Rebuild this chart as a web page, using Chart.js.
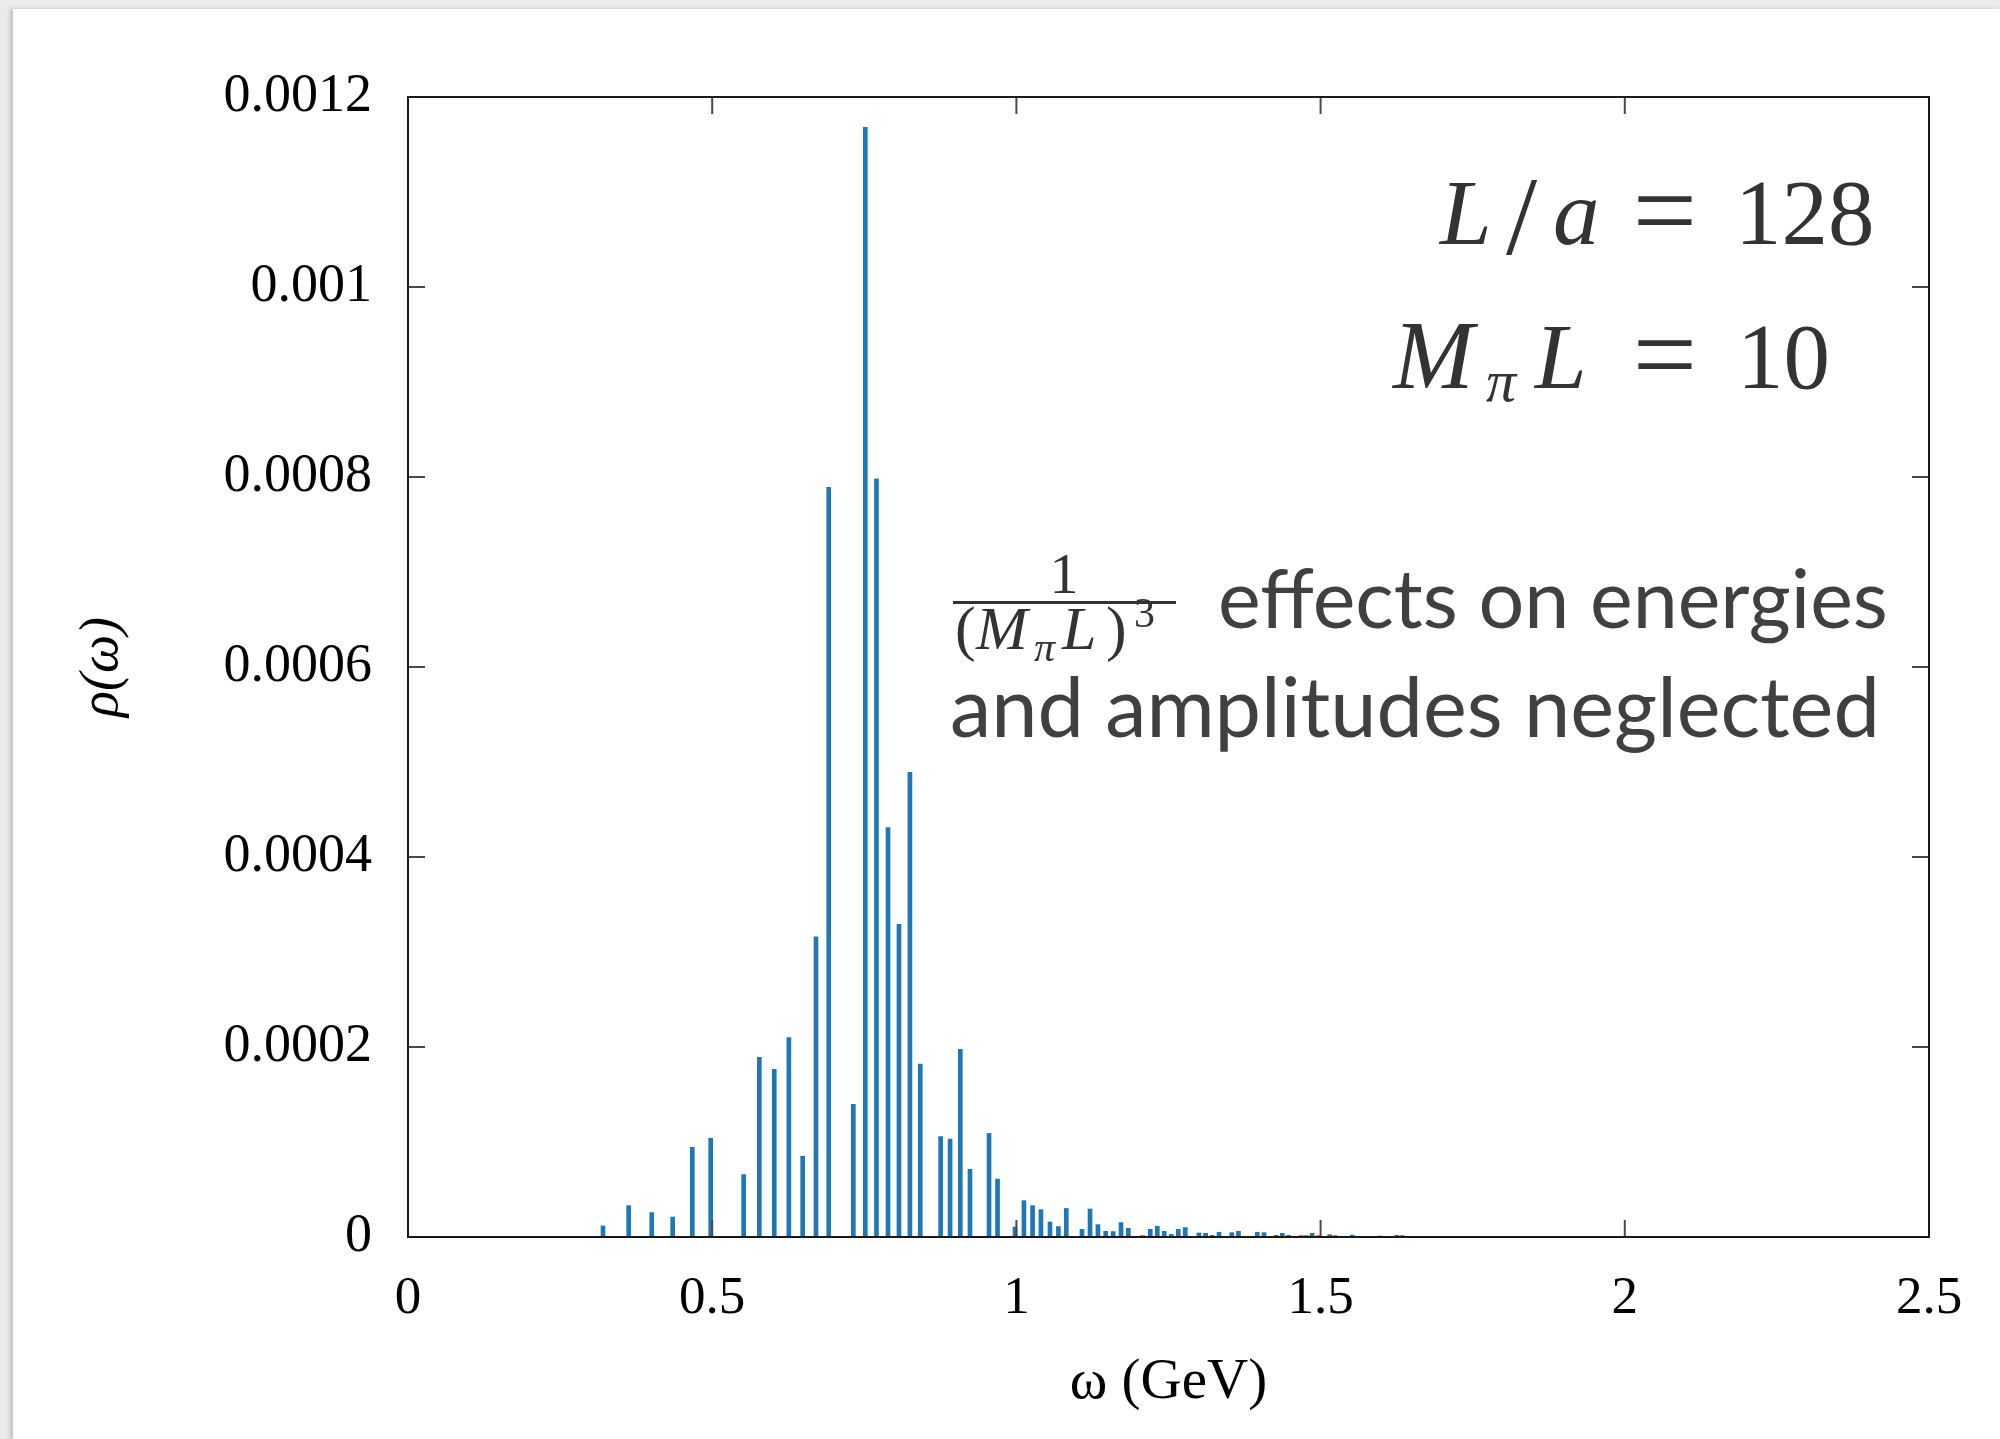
<!DOCTYPE html>
<html>
<head>
<meta charset="utf-8">
<script src="https://cdn.jsdelivr.net/npm/chart.js@4.4.1/dist/chart.umd.min.js"></script>
<style>
  html, body { margin: 0; padding: 0; background: #ebebeb; overflow: hidden; }
  #card { position: absolute; left: 13px; top: 9px; right: 0; bottom: 0; background: #fff;
          box-shadow: -3px 0 4px rgba(0,0,0,0.18); }
  #chart { position: absolute; left: 0; top: 0; }
</style>
</head>
<body>
<div id="card"></div>
<canvas id="chart" width="2000" height="1439"></canvas>
<script>
// energies (GeV) and spectral weights
const omega = [0.3205, 0.3627, 0.4006, 0.435, 0.4673, 0.4975, 0.5517, 0.5775, 0.602, 0.626,
  0.6487, 0.6706, 0.6915, 0.732, 0.7517, 0.770, 0.789, 0.807, 0.825, 0.842,
  0.8755, 0.891, 0.9078, 0.9237, 0.955, 0.969, 0.9977, 1.0124, 1.0266, 1.0403,
  1.0552, 1.069, 1.082, 1.1078, 1.121, 1.134, 1.1468, 1.159, 1.172, 1.184,
  1.2076, 1.220, 1.2316, 1.243, 1.2546, 1.266, 1.2776, 1.300, 1.311, 1.322,
  1.333, 1.354, 1.365, 1.396, 1.407, 1.427, 1.437, 1.4475, 1.468, 1.4765,
  1.486, 1.496, 1.515, 1.524, 1.552, 1.598, 1.625, 1.634];
const rho = [1.16e-5, 3.3e-5, 2.57e-5, 2.1e-5, 9.44e-5, 1.04e-4, 6.57e-5, 1.89e-4, 1.765e-4, 2.10e-4,
  8.5e-5, 3.16e-4, 7.89e-4, 1.397e-4, 1.168e-3, 7.98e-4, 4.31e-4, 3.29e-4, 4.89e-4, 1.82e-4,
  1.057e-4, 1.03e-4, 1.976e-4, 7.13e-5, 1.09e-4, 6.1e-5, 1.05e-5, 3.83e-5, 3.3e-5, 2.88e-5,
  1.58e-5, 1.1e-5, 3.0e-5, 8.1e-6, 2.95e-5, 1.3e-5, 6.0e-6, 5.7e-6, 1.52e-5, 9.2e-6,
  1.5e-6, 8.1e-6, 1.13e-5, 6.0e-6, 2.8e-6, 8.1e-6, 9.9e-6, 4.2e-6, 3.9e-6, 1.8e-6,
  5.0e-6, 4.6e-6, 6.0e-6, 5.0e-6, 4.6e-6, 1.8e-6, 3.9e-6, 1.8e-6, 1.5e-6, 1.5e-6,
  3.9e-6, 1.5e-6, 2.5e-6, 1.5e-6, 2.0e-6, 1.0e-6, 1.8e-6, 1.5e-6];

const xTicks = [0, 0.5, 1, 1.5, 2, 2.5];
const yTicks = [0, 0.0002, 0.0004, 0.0006, 0.0008, 0.001, 0.0012];

const serif = '"Liberation Serif", "DejaVu Serif", serif';
const ink = '#333333';

function txt(ctx, t, font, x, y) {
  ctx.font = font;
  ctx.fillText(t, x, y);
}

const framePlugin = {
  id: 'frame',
  afterDatasetsDraw(chart) {
    const { ctx, chartArea: a, scales: { x, y } } = chart;
    ctx.save();
    ctx.strokeStyle = '#4a4a4a';
    ctx.lineWidth = 2;
    ctx.beginPath();
    xTicks.slice(1, -1).forEach(v => {
      const px = x.getPixelForValue(v);
      ctx.moveTo(px, a.bottom); ctx.lineTo(px, a.bottom - 17);
      ctx.moveTo(px, a.top); ctx.lineTo(px, a.top + 17);
    });
    yTicks.slice(1, -1).forEach(v => {
      const py = y.getPixelForValue(v);
      ctx.moveTo(a.left, py); ctx.lineTo(a.left + 17, py);
      ctx.moveTo(a.right, py); ctx.lineTo(a.right - 17, py);
    });
    ctx.stroke();
    ctx.strokeStyle = '#1a1a1a';
    ctx.lineWidth = 2;
    ctx.strokeRect(a.left, a.top, a.width, a.height);
    ctx.restore();
  },
  afterDraw(chart) {
    const ctx = chart.ctx;
    ctx.save();
    ctx.fillStyle = ink;
    ctx.textBaseline = 'alphabetic';
    ctx.textAlign = 'left';
    const it = 'italic 93px ' + serif, rm = '93px ' + serif;

    // L/a = 128
    txt(ctx, 'L', it, 1440, 244);
    txt(ctx, '/', '112px ' + serif, 1506, 254);
    txt(ctx, 'a', it, 1553, 244);
    ctx.textAlign = 'center';
    txt(ctx, '=', '114px ' + serif, 1665, 249);
    ctx.textAlign = 'left';
    txt(ctx, '128', rm, 1735, 244);

    // M_pi L = 10
    txt(ctx, 'M', 'italic 97px ' + serif, 1393, 388);
    txt(ctx, '\u03c0', 'italic 60px ' + serif, 1486, 401);
    txt(ctx, 'L', it, 1535, 388);
    ctx.textAlign = 'center';
    txt(ctx, '=', '114px ' + serif, 1665, 393);
    ctx.textAlign = 'left';
    txt(ctx, '10', rm, 1737, 388);

    // 1/(M_pi L)^3 fraction
    const fs = 62, fi = 'italic ' + fs + 'px ' + serif, fr = fs + 'px ' + serif;
    ctx.textAlign = 'center';
    txt(ctx, '1', '58px ' + serif, 1064, 593);
    ctx.fillRect(953, 601, 223, 3);
    ctx.textAlign = 'left';
    txt(ctx, '(', fr, 955, 649);
    txt(ctx, 'M', fi, 976, 649);
    txt(ctx, '\u03c0', 'italic 42px ' + serif, 1034, 661);
    txt(ctx, 'L', fi, 1062, 649);
    txt(ctx, ')', fr, 1106, 649);
    txt(ctx, '3', '42px ' + serif, 1134, 627);

    // sans caption, sized to the reference widths
    ctx.fillStyle = '#404040';
    ctx.font = '100px Lato';
    const w1 = ctx.measureText('effects on energies').width;
    const w2 = ctx.measureText('and amplitudes neglected').width;
    txt(ctx, 'effects on energies', (100 * 670 / w1) + 'px Lato', 1218, 628);
    txt(ctx, 'and amplitudes neglected', (100 * 930 / w2) + 'px Lato', 950, 737);
    ctx.restore();
  }
};

new Chart(document.getElementById('chart'), {
  type: 'bar',
  data: {
    datasets: [{
      data: omega.map((w, i) => ({ x: w, y: rho[i] })),
      backgroundColor: '#1f77b4',
      barThickness: 4
    }]
  },
  options: {
    responsive: false,
    animation: false,
    layout: { padding: { left: 0, top: 97, right: 71, bottom: 0 } },
    plugins: { legend: { display: false }, tooltip: { enabled: false } },
    scales: {
      x: {
        type: 'linear', min: 0, max: 2.5, offset: false,
        afterBuildTicks: s => { s.ticks = xTicks.map(v => ({ value: v })); },
        afterFit: s => { s.height = 202; },
        grid: { display: false, drawTicks: false },
        border: { display: false },
        ticks: { color: '#000', padding: 30, font: { family: serif, size: 53 }, callback: v => String(v) },
        title: { display: true, text: 'ω (GeV)', color: '#000', font: { family: serif, size: 57 }, padding: { top: 0, bottom: 22 } }
      },
      y: {
        min: 0, max: 0.0012,
        afterBuildTicks: s => { s.ticks = yTicks.map(v => ({ value: v })); },
        afterFit: s => { s.width = 408; },
        grid: { display: false, drawTicks: false },
        border: { display: false },
        ticks: { color: '#000', padding: 36, font: { family: serif, size: 54 }, callback: v => String(+v.toFixed(4)) },
        title: { display: true, text: 'ρ(ω)', color: '#000', font: { family: serif, size: 54, style: 'italic' }, padding: { top: 70, bottom: 0 } }
      }
    }
  },
  plugins: [framePlugin]
});
</script>
</body>
</html>
